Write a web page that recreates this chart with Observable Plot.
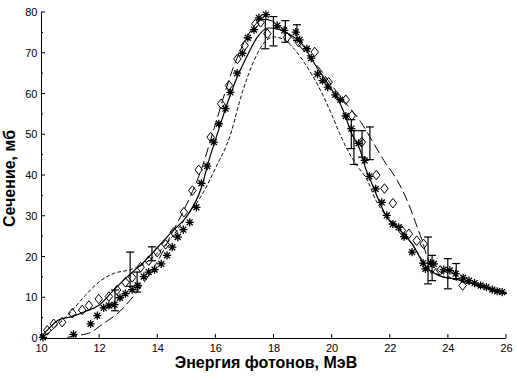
<!DOCTYPE html>
<html>
<head>
<meta charset="utf-8">
<script src="https://cdn.jsdelivr.net/npm/d3@7"></script>
<script src="https://cdn.jsdelivr.net/npm/@observablehq/plot@0.6"></script>
<style>
  html, body { margin: 0; padding: 0; background: #fff; }
</style>
</head>
<body>
<div id="chart"></div>
<script>
// ---- tick labels / axes ----
const xTicks = [10, 12, 14, 16, 18, 20, 22, 24, 26];
const yTicks = [0, 10, 20, 30, 40, 50, 60, 70, 80];
const yMinor = [5, 15, 25, 35, 45, 55, 65, 75];
const xLabel = "Энергия фотонов, МэВ";
const yLabel = "Сечение, мб";

// ---- experiment: asterisks ----
const starE = [10.05,11.1,11.69,11.92,12.14,12.32,12.51,12.7,12.89,13.12,13.31,13.52,13.69,13.89,14.12,14.32,14.5,14.69,14.88,15.1,15.33,15.5,15.7,15.93,16.1,16.33,16.5,16.73,16.91,17.1,17.31,17.48,17.72,18.11,18.35,18.75,18.88,19.13,19.28,19.5,19.67,19.85,20.11,20.28,20.47,20.66,20.91,21.12,21.28,21.5,21.71,21.88,22.09,22.29,22.48,22.75,23.13,23.21,23.39,23.5,23.84,24.05,24.25,24.51,24.71,24.9,25.11,25.31,25.51,25.68,25.85];
const starS = [0.3,1.0,3.6,5.6,7.5,8.1,8.3,10,11,12,13,15.2,16.3,16.9,18.3,20.4,22.4,24.9,26.7,28.5,32.2,38.1,42.3,48.2,52.7,56.4,60.4,65.1,70,73.8,75.8,78.7,79.5,76.8,75.6,75.2,73.3,71.1,68.8,64.9,63.3,61.7,59.8,58.6,54.6,51.5,47.9,43.7,39.8,36.7,33.4,30.2,28.1,27.3,25,21.2,18.5,17.1,18.5,18.3,16.9,16.7,15.9,14.9,14.2,13.6,13,12.6,12,11.6,11.4];

// ---- experiment: open diamonds ----
const diaE = [10.2,10.42,10.71,11.06,11.4,11.63,11.97,12.32,12.6,12.89,13.12,13.41,13.69,13.98,14.27,14.55,14.9,15.19,15.41,15.82,16.18,16.45,16.74,16.99,17.36,17.54,17.77,18.45,18.85,19.4,19.88,20.47,20.68,21.02,21.52,21.8,22.09,22.4,22.64,22.91,23.15,23.43,23.72,24.49];
const diaS = [2,3.6,4,6.2,7,8.1,9.7,10.3,11.9,13.8,15,17.5,19.1,21.2,23.1,26.1,31,36.3,41.4,49.4,57.6,62.1,68.6,71.9,77.2,77.6,74.8,73.9,72.7,70.3,62.9,58.6,54.7,48.2,40.1,36.8,33.2,26.5,25.7,24,23.2,17.1,16.7,13];

// ---- experiment: error bars ----
const errE  = [12.53,13.05,13.29,13.8,17.7,17.98,18.39,18.79,20.66,20.75,21.03,21.3,23.3,23.44,23.98,24.27];
const errLo = [6.8,12.8,11.4,19.1,71.1,71.8,72.7,73.1,46.6,42.7,44.5,43.9,13.4,14.2,12.2,14.7];
const errHi = [11.9,21.2,16.3,22.5,78.3,79.0,78.0,77.0,53.7,51.0,51.0,51.9,24.9,20.4,19.6,18.4];

// ---- theory: solid ----
const solidE = [10,10.3,10.6,11,11.5,12,12.5,13,13.5,14,14.5,15,15.5,15.76,16.05,16.39,16.73,17.08,17.42,17.8,18.1,18.5,18.96,19.47,19.93,20.33,20.68,20.97,21.14,21.37,21.6,21.88,22.29,22.75,23.2,23.66,24.35,25.27,26];
const solidS = [0.5,2.8,4.6,5.3,6.6,8.3,12,15.5,18.6,22.4,26.3,30,37,43.7,50.2,57.6,64.1,69.4,73.9,76.2,76,74.8,72.3,66.6,61.7,56.8,50.2,46.1,42,38,34,29.8,26.9,23.2,17.9,15.5,14.4,12.6,11.1];

// ---- theory: short dashes ----
const shortE = [10,10.5,11,11.5,12,12.5,13,13.5,14,14.5,15,15.5,16,16.5,16.85,17.3,17.65,18,18.3,18.7,19.07,19.6,20,20.29,20.55,20.9,21.2,21.5,21.88,22.3,22.75,23.2,23.7,24.4,25.3,26];
const shortS = [0,3,6.5,10.5,14,16,16.8,18.2,21,25,30,35,42,50,59,68,72.5,74,73.5,71,67.4,60.9,54.7,49.8,46,42,39,34,30,27,23.2,18.2,15.5,14.3,12.6,11.1];

// ---- theory: long dashes ----
const longE = [10.9,11.3,11.7,12,12.3,12.6,13,13.5,14,14.5,15,15.5,16,16.6,17.2,17.6,17.9,18.3,18.8,19.2,19.53,20,20.5,21,21.37,21.78,22.24,22.58,22.93,23.1,23.27,23.6,24,25,26];
const longS = [0.3,0.8,1.5,3,4.5,6,9,13.5,19,26,33,41.5,53,66.5,75.5,78.3,78,76,72.5,69,66.6,62,57.5,53,48.6,43.7,38.8,33.9,27.3,24,20,17,15.2,12.8,11];

// ---- build tables ----
const zip = (E, S) => E.map((e, i) => ({E: e, S: S[i]}));
const stars = zip(starE, starS);
const diamonds = zip(diaE, diaS);
const errs = errE.map((e, i) => ({E: e, lo: errLo[i], hi: errHi[i]}));
const solid = zip(solidE, solidS);
const shortD = zip(shortE, shortS);
const longD = zip(longE, longS);

// ---- custom symbols ----
const star8 = {draw(ctx, size) {
  const r = Math.sqrt(size / Math.PI), d = r * 0.72;
  ctx.moveTo(-r, 0); ctx.lineTo(r, 0);
  ctx.moveTo(0, -r); ctx.lineTo(0, r);
  ctx.moveTo(-d, -d); ctx.lineTo(d, d);
  ctx.moveTo(-d, d); ctx.lineTo(d, -d);
}};
const diamondTall = {draw(ctx, size) {
  const r = Math.sqrt(size / Math.PI), w = r * 0.78;
  ctx.moveTo(0, -r); ctx.lineTo(w, 0); ctx.lineTo(0, r); ctx.lineTo(-w, 0); ctx.closePath();
}};
const capSym = {draw(ctx, size) {
  const r = Math.sqrt(size / Math.PI);
  ctx.moveTo(-r, 0); ctx.lineTo(r, 0);
}};

const chart = Plot.plot({
  width: 517,
  height: 380,
  marginLeft: 41,
  marginRight: 11,
  marginTop: 12,
  marginBottom: 42,
  x: {domain: [xTicks[0], xTicks[xTicks.length - 1]]},
  y: {domain: [yTicks[0], yTicks[yTicks.length - 1]]},
  style: {fontFamily: "'Liberation Sans', Arial, sans-serif", fontSize: "11px", background: "#fff", color: "#000"},
  marks: [
    Plot.axisX({ticks: xTicks, tickSize: 0, tickPadding: 6, label: null, tickFormat: d => String(d)}),
    Plot.axisY({ticks: yTicks, tickSize: 0, tickPadding: 4, label: null, tickFormat: d => String(d)}),
    Plot.ruleX([xTicks[0]], {stroke: "#000", strokeWidth: 1}),
    Plot.ruleY([yTicks[0]], {stroke: "#000", strokeWidth: 1}),
    Plot.line(longD, {x: "E", y: "S", stroke: "#000", strokeWidth: 1, strokeDasharray: "9,5", curve: "monotone-x"}),
    Plot.line(shortD, {x: "E", y: "S", stroke: "#000", strokeWidth: 1, strokeDasharray: "3,3", curve: "monotone-x"}),
    Plot.line(solid, {x: "E", y: "S", stroke: "#000", strokeWidth: 1.2, curve: "monotone-x"}),
    Plot.dot(diamonds, {x: "E", y: "S", symbol: diamondTall, r: 4.8, stroke: "#000", fill: "none", strokeWidth: 1}),
    Plot.dot(stars, {x: "E", y: "S", symbol: star8, r: 4.1, stroke: "#000", fill: "none", strokeWidth: 1.3}),
    Plot.ruleX(errs, {x: "E", y1: "lo", y2: "hi", stroke: "#000", strokeWidth: 1.2}),
    Plot.dot(errs, {x: "E", y: "lo", symbol: capSym, r: 4, stroke: "#000", strokeWidth: 1.2}),
    Plot.dot(errs, {x: "E", y: "hi", symbol: capSym, r: 4, stroke: "#000", strokeWidth: 1.2}),
    Plot.text([xLabel], {frameAnchor: "bottom", textAnchor: "middle", dy: 29, dx: -8, fontWeight: "bold", fontSize: 16, fill: "#000"}),
    Plot.text([yLabel], {frameAnchor: "left", textAnchor: "middle", rotate: -90, dx: -32, dy: 3, fontWeight: "bold", fontSize: 16, fill: "#000"})
  ]
});

// inward tick marks on the axes, positioned with the chart's own scales
const sx = chart.scale("x"), sy = chart.scale("y");
const svg = d3.select(chart);
const g = svg.append("g").attr("stroke", "#000").attr("stroke-width", 1);
const x0 = sx.apply(xTicks[0]), y0 = sy.apply(yTicks[0]);
yTicks.forEach(v => g.append("line").attr("x1", x0).attr("x2", x0 + 4).attr("y1", sy.apply(v)).attr("y2", sy.apply(v)));
yMinor.forEach(v => g.append("line").attr("x1", x0).attr("x2", x0 + 2).attr("y1", sy.apply(v)).attr("y2", sy.apply(v)));
xTicks.forEach(v => g.append("line").attr("x1", sx.apply(v)).attr("x2", sx.apply(v)).attr("y1", y0).attr("y2", y0 - 4));

document.getElementById("chart").appendChild(chart);
</script>
</body>
</html>
